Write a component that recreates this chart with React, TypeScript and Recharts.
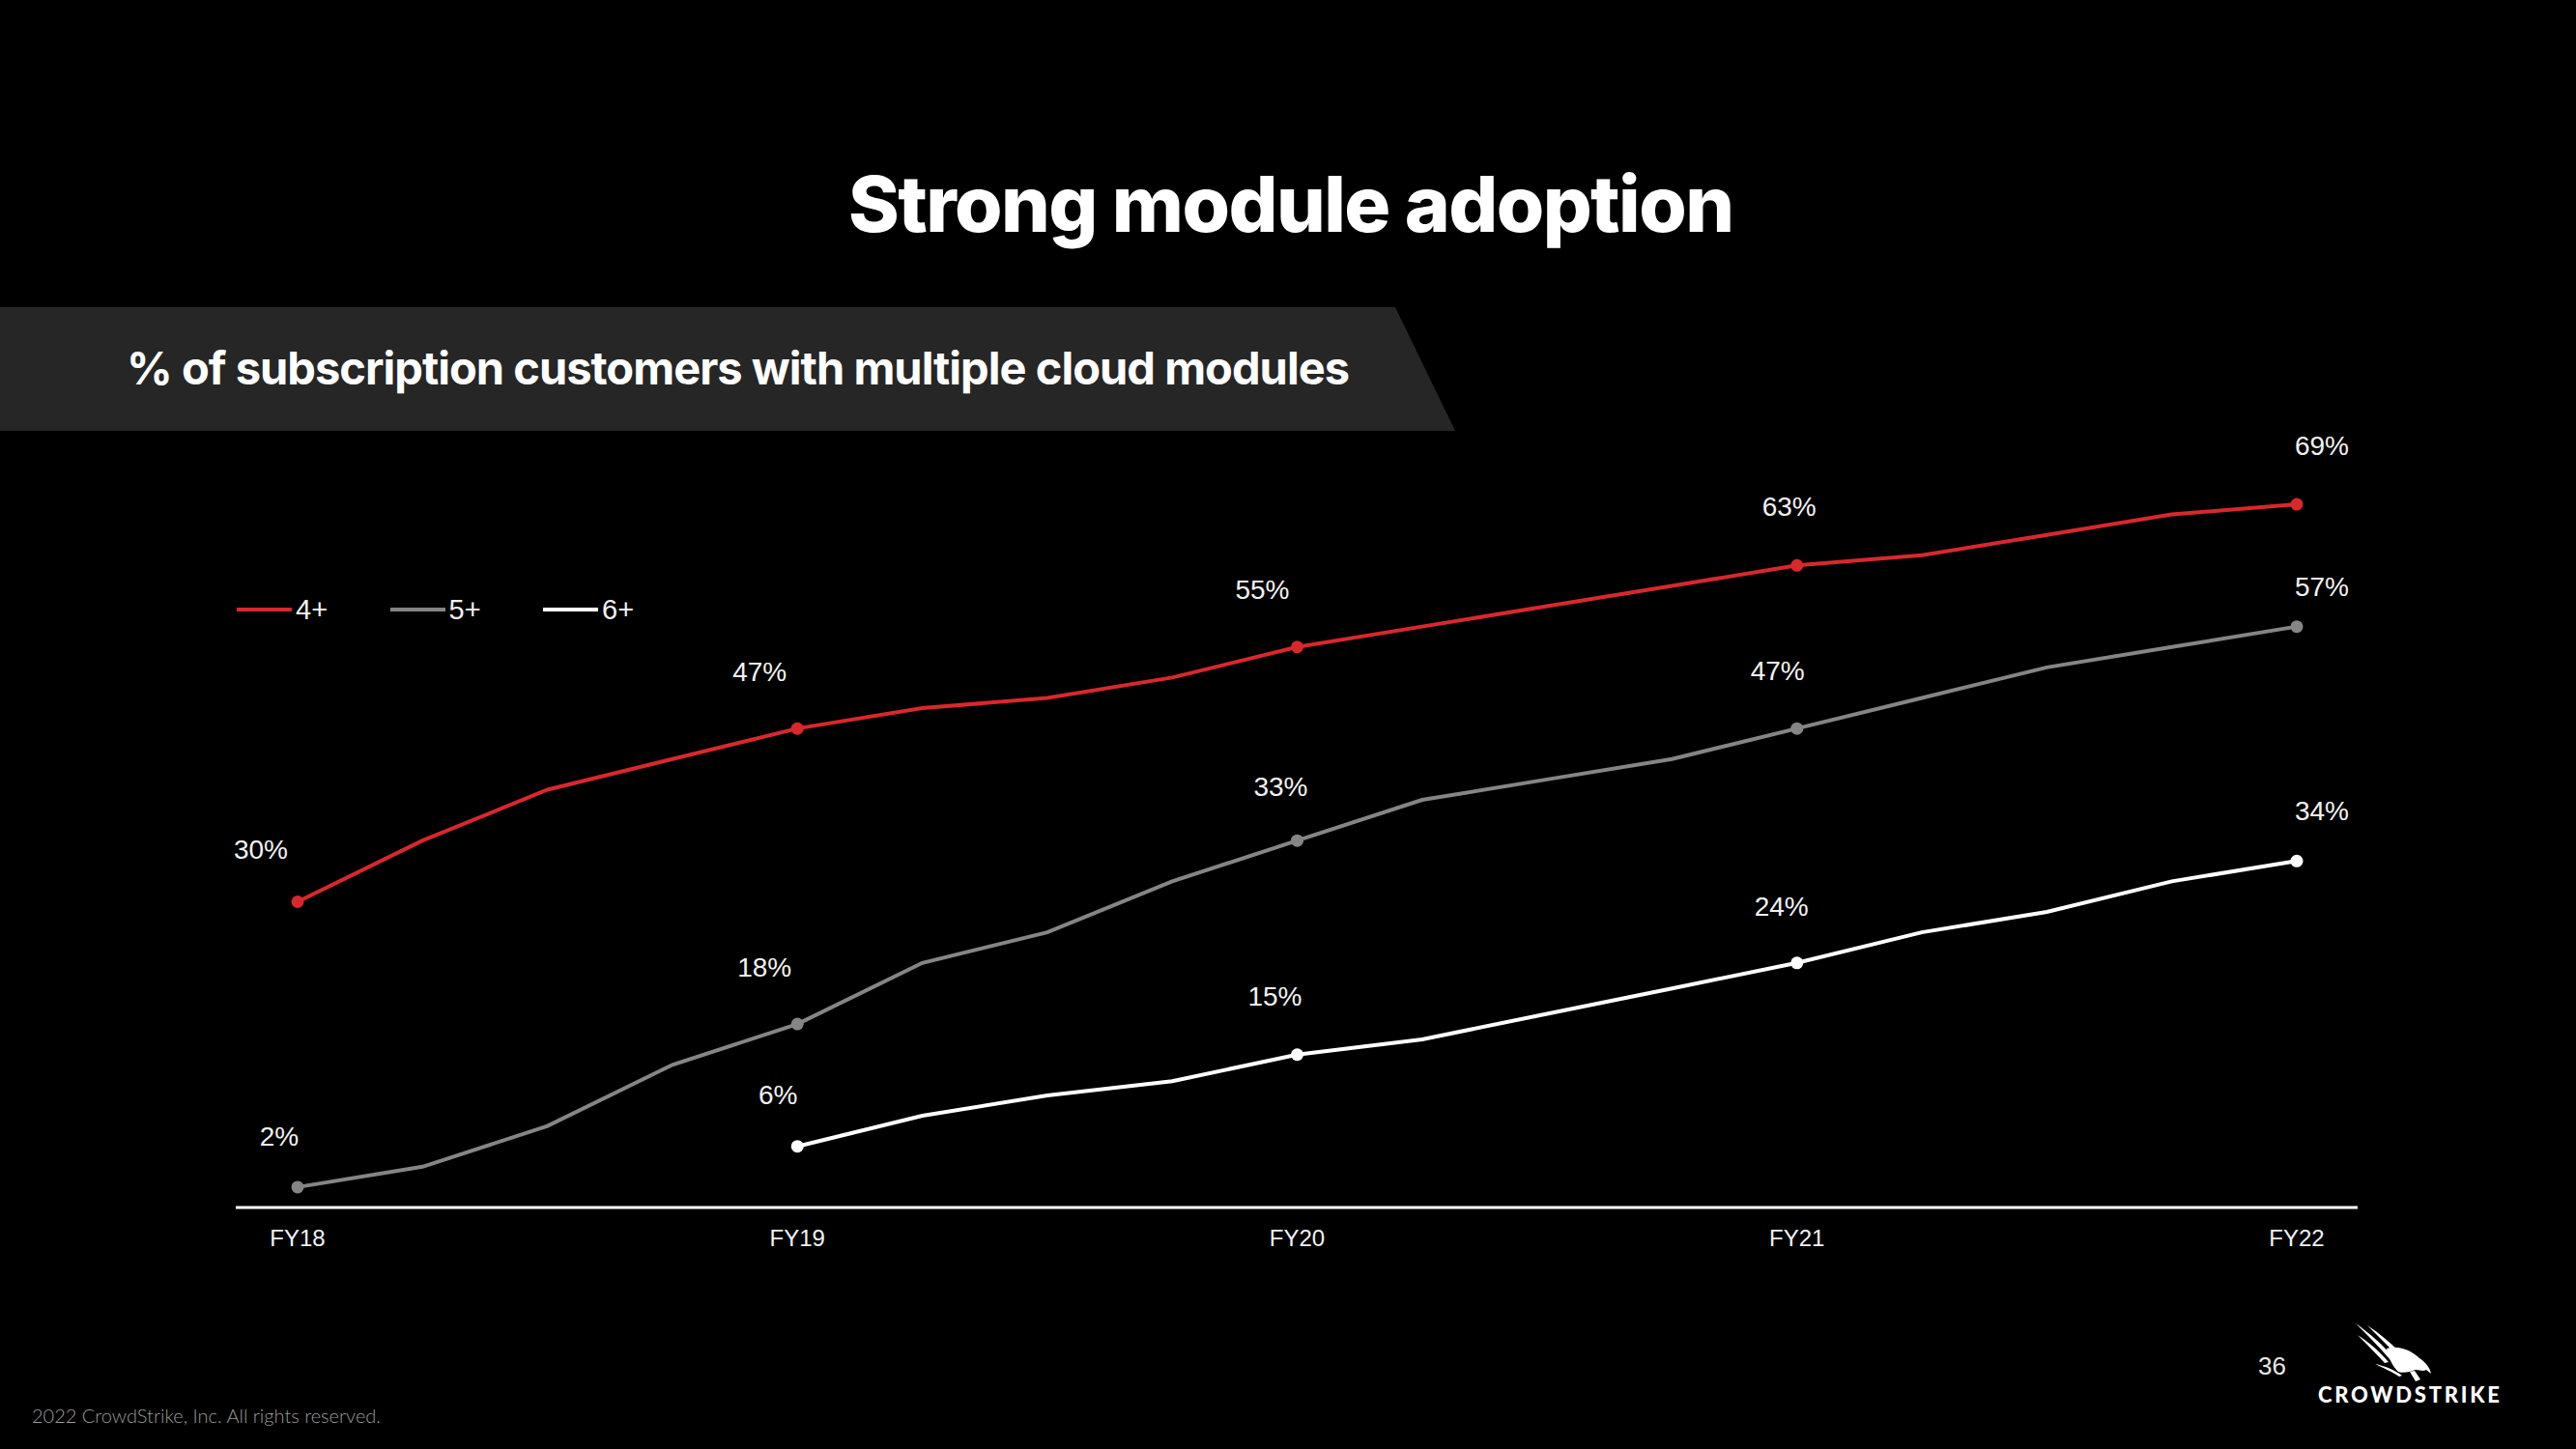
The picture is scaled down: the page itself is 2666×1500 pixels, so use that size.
import React from "react";
import { LineChart, Line, XAxis, YAxis, LabelList } from "recharts";

// quarterly points, FY18 -> FY22 (only fiscal year ends get a tick)
const quarters = [
  "FY18", "Q1 FY19", "Q2 FY19", "Q3 FY19",
  "FY19", "Q1 FY20", "Q2 FY20", "Q3 FY20",
  "FY20", "Q1 FY21", "Q2 FY21", "Q3 FY21",
  "FY21", "Q1 FY22", "Q2 FY22", "Q3 FY22",
  "FY22",
];

const fourPlus = [30, 36, 41, 44, 47, 49, 50, 52, 55, 57, 59, 61, 63, 64, 66, 68, 69];
const fivePlus = [2, 4, 8, 14, 18, 24, 27, 32, 36, 40, 42, 44, 47, 50, 53, 55, 57];
const sixPlus = [null, null, null, null, 6, 9, 11, 12.4, 15, 16.5, 19, 21.5, 24, 27, 29, 32, 34];

// labels shown at fiscal year ends
const fourPlusLabels = ["30%", "47%", "55%", "63%", "69%"];
const fivePlusLabels = ["2%", "18%", "33%", "47%", "57%"];
const sixPlusLabels = [null, "6%", "15%", "24%", "34%"];

const seriesNames = ["4+", "5+", "6+"];

const RED = "#d8282c";
const GRAY = "#858585";
const WHITE = "#ffffff";
const LABEL_FONT = "'Liberation Sans', Arial, sans-serif";

const data = quarters.map((q, i) => ({
  q,
  four: fourPlus[i],
  five: fivePlus[i],
  six: sixPlus[i],
}));

// hand placed label offsets (dx from point centre, baseline dy)
const labelOffsets = {
  four: [[-38, -45], [-39, -49], [-36, -50], [-8, -51], [26, -51]],
  five: [[-19, -43], [-34, -49], [-17, -46], [-20, -50], [26, -32]],
  six: [[0, 0], [-20, -44], [-23, -51], [-16, -49], [26, -42]],
};

const makeDot = (color) => (props) => {
  const { cx, cy, index, value } = props;
  if (index % 4 !== 0 || value == null || cx == null) return <g key={`d-${index}`} />;
  return <circle key={`d-${index}`} cx={cx} cy={cy} r={6.5} fill={color} stroke="none" />;
};

const makeLabel = (labels, key) => (props) => {
  const { x, y, index, value } = props;
  if (index % 4 !== 0 || value == null) return null;
  const year = index / 4;
  const text = labels[year];
  if (!text) return null;
  const [dx, dy] = labelOffsets[key][year];
  return (
    <text
      x={x + dx}
      y={y + dy}
      textAnchor="middle"
      fill="#f2f2f2"
      fontSize={28}
      fontFamily={LABEL_FONT}
    >
      {text}
    </text>
  );
};

const SeriesLegend = () => {
  const colors = [RED, GRAY, WHITE];
  return (
    <div style={{ position: "absolute", left: 245, top: 614, display: "flex" }}>
      {seriesNames.map((name, i) => (
        <div key={name} style={{ display: "flex", alignItems: "center", width: 158.5 }}>
          <div style={{ width: 57, height: 4, background: colors[i] }} />
          <span
            style={{
              marginLeft: 4,
              color: "#f2f2f2",
              fontSize: 29,
              fontFamily: LABEL_FONT,
              lineHeight: "34px",
            }}
          >
            {name}
          </span>
        </div>
      ))}
    </div>
  );
};

const Falcon = () => (
  <g fill="#ffffff">
    <path d="M2438 1370 C2452 1380 2466 1392 2478 1406 L2474 1408 C2462 1394 2450 1382 2438 1370 Z" />
    <path d="M2450 1372 C2462 1380 2474 1390 2484 1400 L2480 1402 C2470 1392 2460 1382 2450 1372 Z" />
    <path d="M2440 1382 C2452 1390 2462 1398 2472 1410 L2468 1411 C2458 1400 2450 1392 2440 1382 Z" />
    <path d="M2458 1412 C2468 1414 2478 1418 2486 1424 L2483 1425 C2476 1420 2466 1416 2458 1412 Z" />
    <path d="M2470 1396 C2482 1392 2496 1398 2504 1406 C2510 1410 2515 1416 2516 1422 L2511 1418 C2508 1420 2504 1418 2500 1418 C2494 1420 2488 1422 2482 1420 C2476 1414 2472 1406 2470 1396 Z" />
    <path d="M2494 1420 L2500 1430 L2505 1428 L2499 1419 Z" />
  </g>
);

export default function App() {
  return (
    <div
      style={{
        position: "absolute",
        left: 0,
        top: 0,
        width: 2666,
        height: 1500,
        background: "#000",
        overflow: "hidden",
      }}
    >
      <svg width={2666} height={1500} style={{ position: "absolute", left: 0, top: 0 }}>
        <text
          x={878}
          y={240}
          fill="#ffffff"
          fontSize={80}
          fontWeight={800}
          fontFamily="Inter, sans-serif"
          textLength={917}
          lengthAdjust="spacing"
          style={{ fontVariantLigatures: "none" }}
        >
          Strong module adoption
        </text>
        <polygon points="0,318 1444,318 1506,446 0,446" fill="#262626" />
        <text
          x={131}
          y={398}
          fill="#ffffff"
          fontSize={47}
          fontWeight={700}
          fontFamily="Inter, sans-serif"
          textLength={1266}
          lengthAdjust="spacing"
        >
          % of subscription customers with multiple cloud modules
        </text>
        <text x={33} y={1473} fill="#9a9a9a" fontSize={20} fontFamily="Lato, sans-serif" fontWeight={300}>
          2022 CrowdStrike, Inc. All rights reserved.
        </text>
        <text x={2337} y={1423} fill="#e6e6e6" fontSize={26} fontFamily={LABEL_FONT}>
          36
        </text>
        <text
          x={2399}
          y={1452}
          fill="#ffffff"
          fontSize={22}
          fontWeight={900}
          fontFamily="Lato, sans-serif"
          textLength={188}
          lengthAdjust="spacing"
        >
          CROWDSTRIKE
        </text>
        <Falcon />
      </svg>

      <SeriesLegend />

      <LineChart
        width={2666}
        height={1500}
        data={data}
        margin={{ top: 406, right: 226, bottom: 220, left: 244 }}
        style={{ position: "absolute", left: 0, top: 0 }}
      >
        <XAxis
          dataKey="q"
          interval={3}
          padding={{ left: 64, right: 63 }}
          axisLine={{ stroke: "#ffffff", strokeWidth: 3 }}
          tickLine={false}
          tickSize={0}
          tickMargin={23}
          tick={{ fill: "#f2f2f2", fontSize: 24, fontFamily: LABEL_FONT }}
          height={30}
        />
        <YAxis hide domain={[0, 80]} />
        <Line
          type="linear"
          dataKey="four"
          name={seriesNames[0]}
          stroke={RED}
          strokeWidth={4}
          dot={makeDot(RED)}
          activeDot={false}
          isAnimationActive={false}
        >
          <LabelList dataKey="four" content={makeLabel(fourPlusLabels, "four")} />
        </Line>
        <Line
          type="linear"
          dataKey="five"
          name={seriesNames[1]}
          stroke={GRAY}
          strokeWidth={4}
          dot={makeDot(GRAY)}
          activeDot={false}
          isAnimationActive={false}
        >
          <LabelList dataKey="five" content={makeLabel(fivePlusLabels, "five")} />
        </Line>
        <Line
          type="linear"
          dataKey="six"
          name={seriesNames[2]}
          stroke={WHITE}
          strokeWidth={4}
          dot={makeDot(WHITE)}
          activeDot={false}
          isAnimationActive={false}
        >
          <LabelList dataKey="six" content={makeLabel(sixPlusLabels, "six")} />
        </Line>
      </LineChart>
    </div>
  );
}
